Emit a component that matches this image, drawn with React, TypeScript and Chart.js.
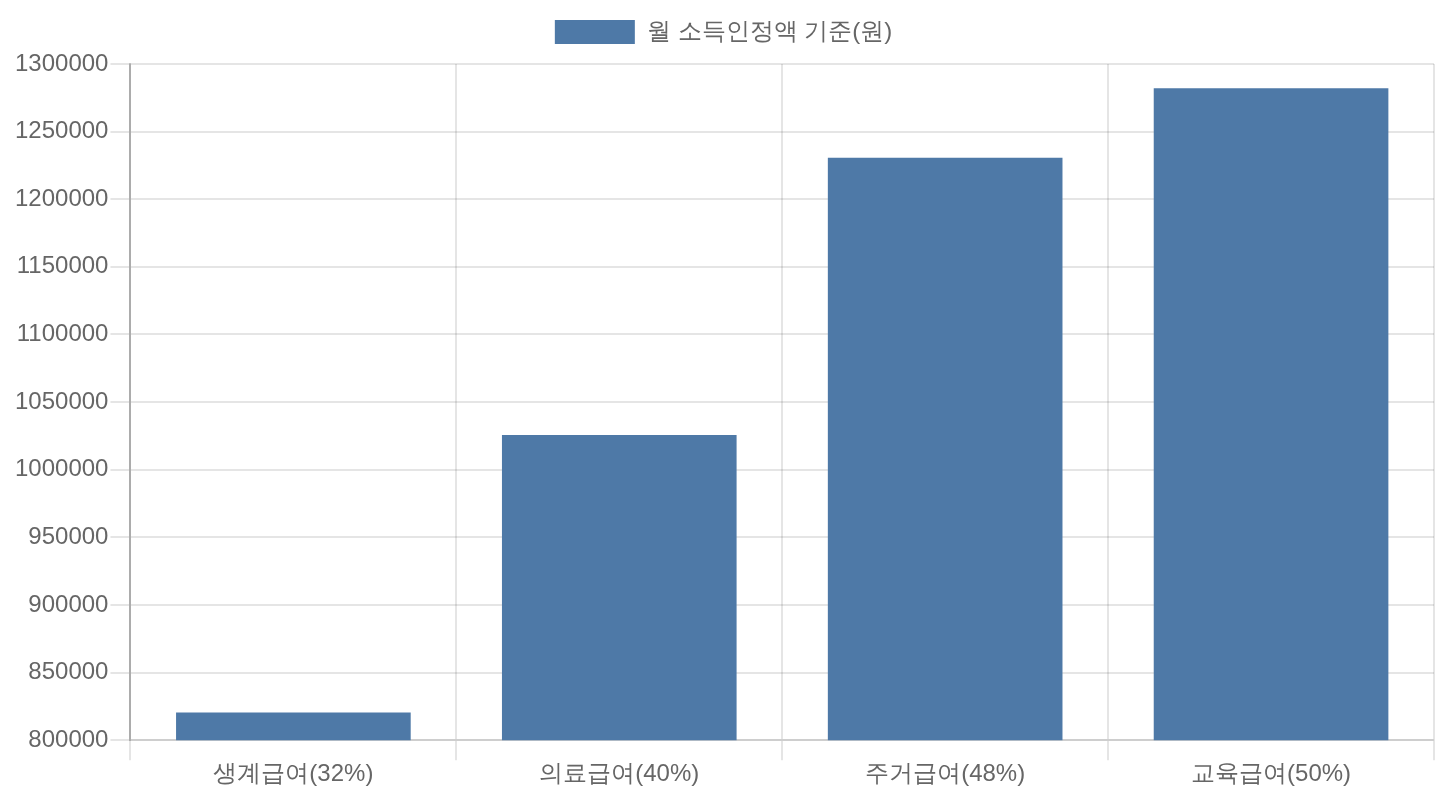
import { useEffect, useRef } from "react";
import { Chart, registerables } from "chart.js";

Chart.register(...registerables);

const categories = ["생계급여(32%)", "의료급여(40%)", "주거급여(48%)", "교육급여(50%)"];
const seriesLabel = "월 소득인정액 기준(원)";
const monthlyIncome = [820474, 1025592, 1230711, 1281990];
const yMin = 800000;
const yMax = 1300000;
const yStep = 50000;

// legend block in the reference is a bit taller than Chart.js 4 makes it
const legendSpacer = {
	id: "legendSpacer",
	beforeInit(chart: any) {
		const legend = chart.legend;
		if (!legend) return;
		const fit = legend.fit;
		legend.fit = function () {
			fit.call(this);
			this.height += 10;
		};
	},
};

export default function App() {
	const canvasRef = useRef<HTMLCanvasElement | null>(null);

	useEffect(() => {
		if (!canvasRef.current) {
			return;
		}

		const chart = new Chart(canvasRef.current, {
			type: "bar",
			data: {
				labels: categories,
				datasets: [
					{
						label: seriesLabel,
						data: monthlyIncome,
						backgroundColor: "#4E79A7",
						borderWidth: 0,
					},
				],
			},
			plugins: [legendSpacer],
			options: {
				responsive: true,
				maintainAspectRatio: false,
				animation: false,
				font: { family: "'Helvetica Neue', Helvetica, Arial, sans-serif", size: 24 },
				color: "#666",
				layout: { padding: { left: 13, right: 6, top: 0, bottom: 11 } },
				plugins: {
					legend: {
						position: "top",
						labels: {
							boxWidth: 80,
							boxHeight: 24,
							padding: 20,
							color: "#666",
							font: { size: 24 },
						},
					},
					tooltip: { enabled: false },
				},
				scales: {
					x: {
						grid: {
							color: "rgba(0,0,0,0.1)",
							lineWidth: 2,
							tickLength: 20,
							offset: true,
						},
						border: { color: "rgba(0,0,0,0.1)", width: 2 },
						ticks: { color: "#666", padding: 0, font: { size: 24 } },
					},
					y: {
						min: yMin,
						max: yMax,
						grid: {
							color: "rgba(0,0,0,0.1)",
							lineWidth: 2,
							tickLength: 20,
						},
						border: { color: "rgba(0,0,0,0.25)", width: 2 },
						ticks: {
							stepSize: yStep,
							color: "#666",
							padding: 2,
							font: { size: 24 },
							callback: (value: any) => String(value),
						},
					},
				},
			},
		});

		return () => {
			chart.destroy();
		};
	}, []);

	return (
		<div style={{ position: "absolute", left: 0, top: 0, width: 1440, height: 800, background: "#fff" }}>
			<canvas ref={canvasRef} aria-label="월 소득인정액 기준 막대 차트" />
		</div>
	);
}
